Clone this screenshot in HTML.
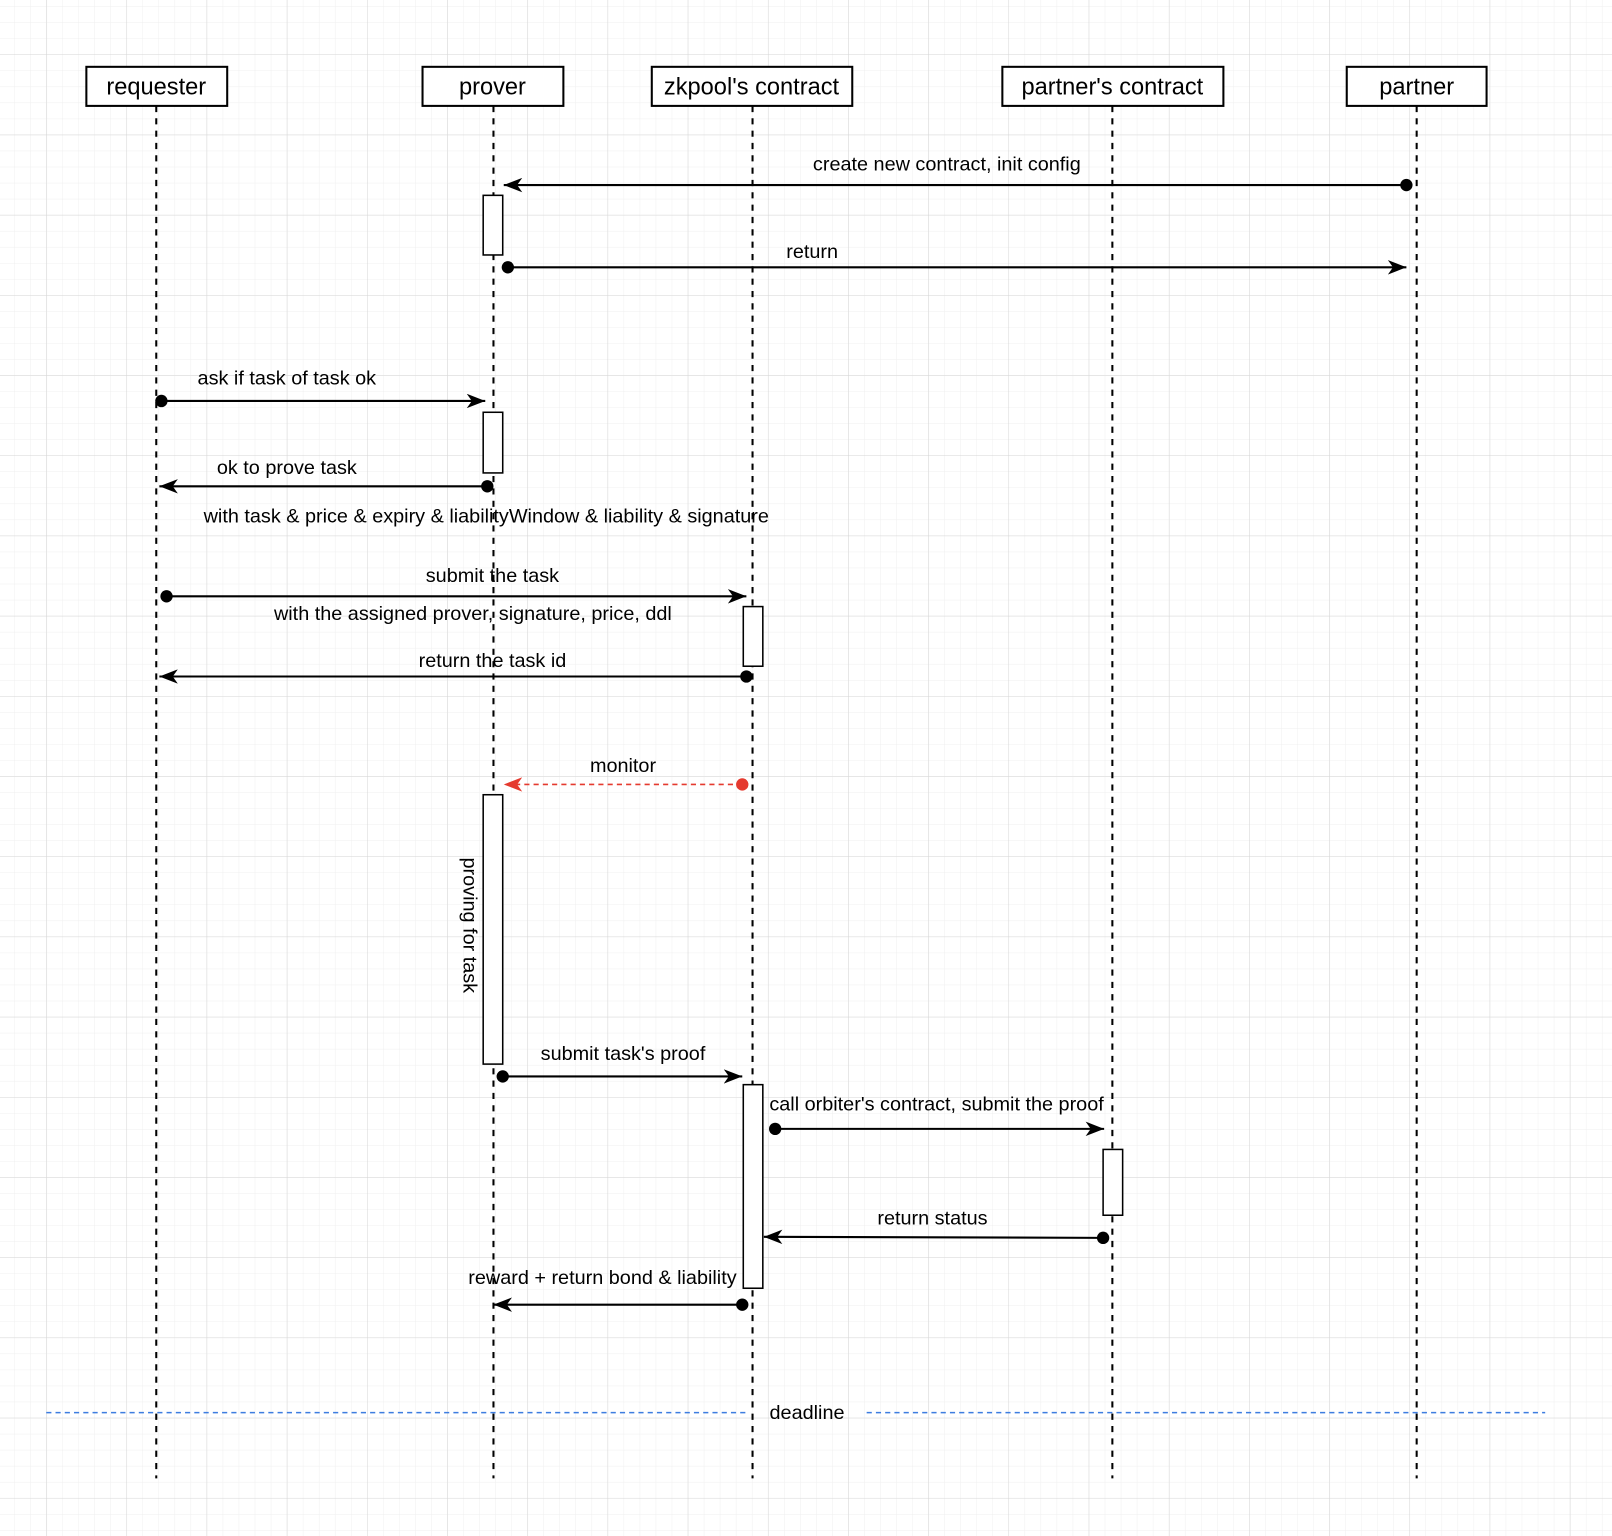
<!DOCTYPE html>
<html><head><meta charset="utf-8"><style>html,body{margin:0;padding:0;background:#fff}svg{display:block}</style></head>
<body>
<svg width="1612" height="1536" viewBox="0 0 1568 1494" preserveAspectRatio="none" xmlns="http://www.w3.org/2000/svg" font-family="Liberation Sans, Arial, sans-serif">
<defs>
<pattern id="mi" x="45" y="53" width="15.6" height="15.6" patternUnits="userSpaceOnUse"><path d="M0 0H15.6M0 0V15.6" stroke="#efefef" stroke-width="1" fill="none"/></pattern>
<pattern id="ma" x="45" y="53" width="78" height="78" patternUnits="userSpaceOnUse"><path d="M0 0H78M0 0V78" stroke="#d6d6d6" stroke-width="1" fill="none"/></pattern>
<marker id="ar" markerWidth="20" markerHeight="14" refX="18" refY="7" orient="auto" markerUnits="userSpaceOnUse"><path d="M0 0L18 7L0 14L5 7Z" fill="#000"/></marker>
<marker id="arr" markerWidth="20" markerHeight="14" refX="18" refY="7" orient="auto" markerUnits="userSpaceOnUse"><path d="M0 0L18 7L0 14L5 7Z" fill="#e53a2f"/></marker>
</defs>
<rect width="1568" height="1494" fill="url(#mi)"/>
<rect width="1568" height="1494" fill="url(#ma)"/>
<g stroke="#000" stroke-width="2" stroke-dasharray="6,6">
<line x1="152" y1="103" x2="152" y2="1438"/><line x1="480" y1="103" x2="480" y2="1438"/><line x1="732" y1="103" x2="732" y2="1438"/><line x1="1082" y1="103" x2="1082" y2="1438"/><line x1="1378" y1="103" x2="1378" y2="1438"/>
</g>
<g fill="#fff" stroke="#000" stroke-width="2">
<rect x="84" y="65" width="137" height="38"/><rect x="411" y="65" width="137" height="38"/><rect x="634" y="65" width="195" height="38"/><rect x="975" y="65" width="215" height="38"/><rect x="1310" y="65" width="136" height="38"/>
</g>
<g font-size="23" text-anchor="middle" fill="#000">
<text x="152" y="92">requester</text><text x="479" y="92">prover</text><text x="731" y="92">zkpool's contract</text><text x="1082" y="92">partner's contract</text><text x="1378" y="92">partner</text>
</g>
<g fill="#fff" stroke="#000" stroke-width="1.5">
<rect x="470" y="190" width="19" height="58"/><rect x="470" y="401" width="19" height="59"/><rect x="723" y="590" width="19" height="58"/><rect x="470" y="773" width="19" height="262"/><rect x="723" y="1055" width="19" height="198"/><rect x="1073" y="1118" width="19" height="64"/>
</g>
<g stroke="#000" stroke-width="2" fill="none">
<line x1="1368" y1="180" x2="490" y2="180" marker-end="url(#ar)"/>
<line x1="494" y1="260" x2="1368" y2="260" marker-end="url(#ar)"/>
<line x1="157" y1="390" x2="472" y2="390" marker-end="url(#ar)"/>
<line x1="474" y1="473" x2="155" y2="473" marker-end="url(#ar)"/>
<line x1="162" y1="580" x2="726" y2="580" marker-end="url(#ar)"/>
<line x1="726" y1="658" x2="155" y2="658" marker-end="url(#ar)"/>
<line x1="489" y1="1047" x2="722" y2="1047" marker-end="url(#ar)"/>
<line x1="754" y1="1098" x2="1074" y2="1098" marker-end="url(#ar)"/>
<line x1="1073" y1="1204" x2="743" y2="1203" marker-end="url(#ar)"/>
<line x1="722" y1="1269" x2="480" y2="1269" marker-end="url(#ar)"/>
</g>
<line x1="722" y1="763" x2="490" y2="763" stroke="#e53a2f" stroke-width="1.5" stroke-dasharray="5,4" marker-end="url(#arr)"/>
<g fill="#000">
<circle cx="1368" cy="180" r="6"/><circle cx="494" cy="260" r="6"/><circle cx="157" cy="390" r="6"/><circle cx="474" cy="473" r="6"/><circle cx="162" cy="580" r="6"/><circle cx="726" cy="658" r="6"/><circle cx="489" cy="1047" r="6"/><circle cx="754" cy="1098" r="6"/><circle cx="1073" cy="1204" r="6"/><circle cx="722" cy="1269" r="6"/>
</g>
<circle cx="722" cy="763" r="6" fill="#e53a2f"/>
<g stroke="#3d7de0" stroke-width="1.5" stroke-dasharray="5,4"><line x1="45" y1="1374" x2="728" y2="1374"/><line x1="843" y1="1374" x2="1503" y2="1374"/></g>
<g font-size="19.3" text-anchor="middle" fill="#000">
<text x="921" y="166">create new contract, init config</text>
<text x="790" y="251">return</text>
<text x="279" y="374">ask if task of task ok</text>
<text x="279" y="461">ok to prove task</text>
<text x="473" y="508">with task &amp; price &amp; expiry &amp; liabilityWindow &amp; liability &amp; signature</text>
<text x="479" y="566">submit the task</text>
<text x="460" y="603">with the assigned prover, signature, price, ddl</text>
<text x="479" y="649">return the task id</text>
<text x="606" y="751">monitor</text>
<text x="606" y="1031">submit task's proof</text>
<text x="911" y="1080">call orbiter's contract, submit the proof</text>
<text x="907" y="1191">return status</text>
<text x="586" y="1249">reward + return bond &amp; liability</text>
<text x="785" y="1380">deadline</text>
<text transform="translate(451,900) rotate(90)">proving for task</text>
</g>
</svg>
</body></html>
